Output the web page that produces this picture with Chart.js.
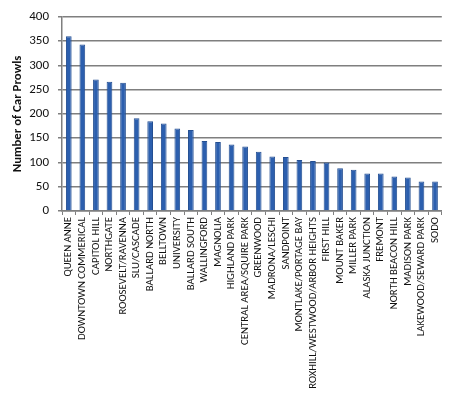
<!DOCTYPE html>
<html>
<head>
<meta charset="utf-8">
<script src="https://cdn.jsdelivr.net/npm/chart.js@4/dist/chart.umd.min.js"></script>
<style>
  html, body { margin: 0; padding: 0; background: #fff; }
  #wrap { width: 450px; height: 395px; }
</style>
</head>
<body>
<div id="wrap"><canvas id="prowls"></canvas></div>
<script>
const neighborhoods = [
    'QUEEN ANNE', 'DOWNTOWN COMMERICAL', 'CAPITOL HILL', 'NORTHGATE', 'ROOSEVELT/RAVENNA',
    'SLU/CASCADE', 'BALLARD NORTH', 'BELLTOWN', 'UNIVERSITY', 'BALLARD SOUTH',
    'WALLINGFORD', 'MAGNOLIA', 'HIGHLAND PARK', 'CENTRAL AREA/SQUIRE PARK', 'GREENWOOD',
    'MADRONA/LESCHI', 'SANDPOINT', 'MONTLAKE/PORTAGE BAY', 'ROXHILL/WESTWOOD/ARBOR HEIGHTS', 'FIRST HILL',
    'MOUNT BAKER', 'MILLER PARK', 'ALASKA JUNCTION', 'FREMONT', 'NORTH BEACON HILL',
    'MADISON PARK', 'LAKEWOOD/SEWARD PARK', 'SODO'
];
const carProwls = [
    360, 343, 271, 266, 264,
    191, 185, 180, 170, 167,
    144, 142, 137, 133, 122,
    112, 111, 105, 103, 100,
    88, 85, 77, 77, 71,
    69, 61, 61
];
const yTicks = [0, 50, 100, 150, 200, 250, 300, 350, 400];

const gridGray = '#7f7f7f';
const calibriLike = "Carlito, 'Liberation Sans', Arial, sans-serif";

const chartProwls = new Chart(
    document.getElementById('prowls'),
    {
        type: 'bar',
        data: {
            labels: neighborhoods,
            datasets: [{
                data: carProwls,
                backgroundColor: '#2c5fae',
                borderColor: '#244f92',
                borderWidth: 1,
                barPercentage: 0.42,
                categoryPercentage: 1.0,
            }]
        },
        options: {
            responsive: true,
            maintainAspectRatio: false,
            animation: false,
            layout: {
                padding: { top: 15, right: 1, left: 0, bottom: 0 }
            },
            plugins: {
                legend: { display: false },
                tooltip: { enabled: false }
            },
            scales: {
                x: {
                    offset: true,
                    grid: {
                        offset: true,
                        drawOnChartArea: false,
                        drawTicks: true,
                        tickLength: 4,
                        color: gridGray,
                    },
                    border: { color: gridGray, width: 1.5 },
                    ticks: {
                        autoSkip: false,
                        maxRotation: 90,
                        minRotation: 90,
                        padding: 2,
                        color: '#111',
                        font: { family: calibriLike, size: 10.8 }
                    },
                    afterFit: (scale) => { scale.height = 184; }
                },
                y: {
                    min: 0,
                    max: 400,
                    afterBuildTicks: (scale) => {
                        scale.ticks = yTicks.map(v => ({ value: v }));
                    },
                    grid: {
                        color: gridGray,
                        lineWidth: 1.5,
                        tickLength: 4,
                    },
                    border: { color: gridGray, width: 1.5 },
                    ticks: {
                        padding: 9,
                        color: '#111',
                        font: { family: calibriLike, size: 13 }
                    },
                    title: {
                        display: true,
                        text: 'Number of Car Prowls',
                        color: '#111',
                        padding: { top: 10, bottom: 0 },
                        font: { family: calibriLike, size: 12.8, weight: 'bold' }
                    },
                    afterFit: (scale) => { scale.width = 62; }
                }
            }
        }
    }
);
</script>
</body>
</html>
